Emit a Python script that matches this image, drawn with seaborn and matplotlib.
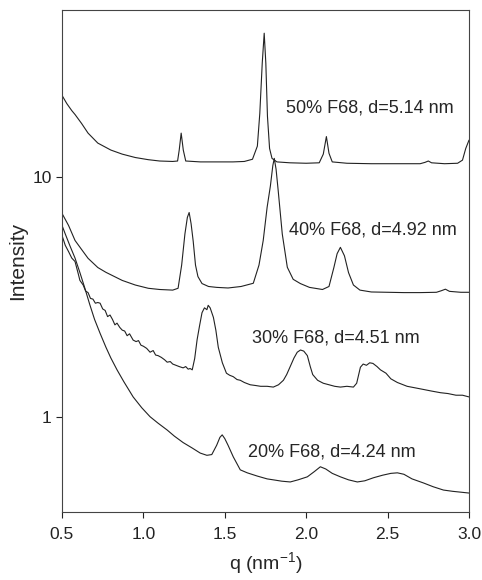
import matplotlib
matplotlib.use("Agg")
import matplotlib.pyplot as plt
import seaborn as sns
import pandas as pd

# 50% F68
q50 = [0.50, 0.53, 0.56, 0.58, 0.62, 0.66, 0.72, 0.80, 0.87, 0.95, 1.03, 1.10, 1.18, 1.21,
       1.22, 1.232, 1.245, 1.26, 1.35, 1.45, 1.55, 1.62, 1.67, 1.70, 1.715, 1.73, 1.742,
       1.752, 1.762, 1.775, 1.79, 1.82, 1.90, 2.00, 2.08, 2.105, 2.124, 2.14, 2.16, 2.25,
       2.40, 2.55, 2.70, 2.73, 2.75, 2.77, 2.85, 2.93, 2.96, 2.98, 3.00]
i50 = [22.0, 20.3, 19.0, 18.3, 16.8, 15.3, 13.9, 13.0, 12.5, 12.1, 11.85, 11.7, 11.65, 11.7,
       13.0, 15.3, 13.0, 11.7, 11.6, 11.6, 11.6, 11.65, 11.9, 13.5, 18.5, 30.0, 40.0,
       30.0, 18.0, 13.2, 12.0, 11.6, 11.5, 11.45, 11.5, 12.5, 14.8, 12.6, 11.6, 11.45,
       11.4, 11.4, 11.4, 11.55, 11.7, 11.5, 11.4, 11.45, 11.8, 13.2, 14.3]

# 40% F68
q40 = [0.50, 0.54, 0.58, 0.62, 0.66, 0.72, 0.77, 0.87, 0.95, 1.03, 1.10, 1.18, 1.213,
       1.235, 1.255, 1.27, 1.281, 1.293, 1.306, 1.32, 1.335, 1.36, 1.40, 1.45, 1.52, 1.60,
       1.675, 1.71, 1.736, 1.76, 1.78, 1.795, 1.804, 1.815, 1.828, 1.853, 1.884, 1.92,
       1.964, 2.02, 2.10, 2.14, 2.17, 2.19, 2.21, 2.235, 2.26, 2.29, 2.33, 2.40, 2.50,
       2.60, 2.70, 2.80, 2.83, 2.855, 2.88, 2.95, 3.00]
i40 = [7.07, 6.3, 5.45, 5.0, 4.59, 4.2, 4.01, 3.71, 3.55, 3.44, 3.40, 3.38, 3.44,
       4.3, 5.8, 6.8, 7.13, 6.4, 5.4, 4.3, 3.85, 3.6, 3.5, 3.47, 3.45, 3.5,
       3.61, 4.3, 5.45, 7.5, 9.2, 11.2, 12.0, 10.8, 8.8, 5.8, 4.21, 3.75,
       3.6, 3.47, 3.4, 3.5, 4.2, 4.8, 5.1, 4.7, 4.0, 3.55, 3.38, 3.32, 3.31,
       3.30, 3.30, 3.31, 3.36, 3.41, 3.34, 3.31, 3.31]

# 30% F68 (noisy trace)
q30 = [0.50, 0.52, 0.54, 0.56, 0.58, 0.60, 0.61, 0.63, 0.645, 0.66, 0.675, 0.69, 0.705,
       0.72, 0.734, 0.75, 0.765, 0.78, 0.795, 0.81, 0.825, 0.838, 0.855, 0.87, 0.885,
       0.90, 0.915, 0.937, 0.955, 0.97, 0.985, 1.00, 1.02, 1.041, 1.06, 1.075, 1.09,
       1.11, 1.13, 1.146, 1.165, 1.18, 1.20, 1.22, 1.244, 1.26, 1.275, 1.287, 1.30,
       1.315, 1.33, 1.345, 1.36, 1.375, 1.39, 1.398, 1.41, 1.43, 1.445, 1.46, 1.485,
       1.51, 1.53, 1.552, 1.575, 1.595, 1.62, 1.656, 1.69, 1.72, 1.76, 1.798, 1.83,
       1.86, 1.88, 1.90, 1.925, 1.945, 1.965, 1.985, 2.007, 2.025, 2.04, 2.07, 2.105,
       2.14, 2.175, 2.21, 2.25, 2.29, 2.31, 2.333, 2.35, 2.37, 2.39, 2.41, 2.435, 2.456,
       2.49, 2.52, 2.56, 2.62, 2.67, 2.72, 2.77, 2.825, 2.87, 2.92, 2.96, 3.00]
i30 = [5.72, 5.2, 4.9, 4.6, 4.45, 3.95, 3.71, 3.55, 3.35, 3.3, 3.12, 3.1, 2.98,
       3.0, 2.98, 2.82, 2.78, 2.62, 2.66, 2.55, 2.42, 2.46, 2.36, 2.30, 2.28,
       2.18, 2.22, 2.09, 2.06, 2.08, 1.99, 1.97, 1.93, 1.86, 1.89, 1.81, 1.80,
       1.77, 1.73, 1.69, 1.70, 1.66, 1.64, 1.62, 1.60, 1.62, 1.58, 1.59, 1.57,
       1.75, 2.1, 2.4, 2.72, 2.85, 2.80, 2.92, 2.85, 2.6, 2.3, 1.95, 1.68,
       1.52, 1.49, 1.47, 1.43, 1.42, 1.39, 1.36, 1.35, 1.34, 1.34, 1.33, 1.36,
       1.42, 1.5, 1.61, 1.76, 1.86, 1.90, 1.88, 1.80, 1.62, 1.50, 1.42, 1.38,
       1.36, 1.34, 1.33, 1.34, 1.33, 1.38, 1.61, 1.66, 1.64, 1.68, 1.67, 1.62, 1.57,
       1.52, 1.44, 1.39, 1.34, 1.32, 1.30, 1.28, 1.26, 1.25, 1.23, 1.23, 1.21]

# 20% F68
q20 = [0.50, 0.52, 0.55, 0.58, 0.61, 0.64, 0.67, 0.70, 0.734, 0.77, 0.80, 0.838, 0.88,
       0.937, 0.99, 1.041, 1.09, 1.146, 1.19, 1.244, 1.30, 1.349, 1.39, 1.42, 1.45,
       1.47, 1.484, 1.50, 1.52, 1.552, 1.595, 1.638, 1.70, 1.76, 1.798, 1.85, 1.902,
       1.95, 2.007, 2.05, 2.087, 2.12, 2.16, 2.21, 2.26, 2.314, 2.36, 2.413, 2.47, 2.52,
       2.56, 2.60, 2.65, 2.72, 2.78, 2.843, 2.90, 2.95, 3.00]
i20 = [6.3, 5.8, 5.15, 4.6, 4.0, 3.45, 2.95, 2.55, 2.23, 1.95, 1.76, 1.57, 1.40,
       1.21, 1.09, 1.0, 0.94, 0.88, 0.83, 0.78, 0.74, 0.705, 0.69, 0.695, 0.76,
       0.82, 0.84, 0.81, 0.76, 0.68, 0.60, 0.583, 0.565, 0.55, 0.545, 0.538, 0.534,
       0.545, 0.561, 0.59, 0.618, 0.605, 0.58, 0.561, 0.545, 0.534, 0.54, 0.556, 0.57, 0.58,
       0.583, 0.575, 0.55, 0.529, 0.51, 0.494, 0.488, 0.484, 0.48]

labels = ["50% F68, d=5.14 nm", "40% F68, d=4.92 nm",
          "30% F68, d=4.51 nm", "20% F68, d=4.24 nm"]
label_pos = [(2.39, 19.4), (2.41, 6.0), (2.18, 2.13), (2.16, 0.713)]

sns.set_style("ticks")
plt.rcParams['font.family'] = ['Liberation Sans', 'DejaVu Sans']
plt.rcParams['mathtext.fontset'] = 'custom'
plt.rcParams['mathtext.rm'] = 'Liberation Sans'

fig = plt.figure(figsize=(4.82, 5.80), dpi=100)
ax = fig.add_axes([62/482, 1 - 512/580, (469 - 62)/482, (512 - 10)/580])

for qs, vals in [(q50, i50), (q40, i40), (q30, i30), (q20, i20)]:
    df = pd.DataFrame({"q": qs, "I": vals})
    sns.lineplot(data=df, x="q", y="I", ax=ax, color="#222222", linewidth=0.8,
                 estimator=None, sort=False)

for txt, (x, y) in zip(labels, label_pos):
    ax.text(x, y, txt, ha="center", va="center", fontsize=13)

ax.set_yscale("log")
ax.set_xlim(0.5, 3.0)
ax.set_ylim(0.40, 50)
ax.set_xticks([0.5, 1.0, 1.5, 2.0, 2.5, 3.0])
ax.set_xticklabels(["0.5", "1.0", "1.5", "2.0", "2.5", "3.0"])
ax.set_yticks([1, 10])
ax.set_yticklabels(["1", "10"])
ax.minorticks_off()
ax.tick_params(labelsize=12.5, length=4, width=0.8, direction="out", colors="#222222")
ax.tick_params(axis="x", pad=7)
for s in ax.spines.values():
    s.set_linewidth(0.8)
    s.set_color("#444444")
ax.set_xlabel("q (nm$^{-1}$)", fontsize=14, labelpad=6)
ax.set_ylabel("Intensity", fontsize=15, labelpad=4)

fig.savefig("out.png", dpi=100)
